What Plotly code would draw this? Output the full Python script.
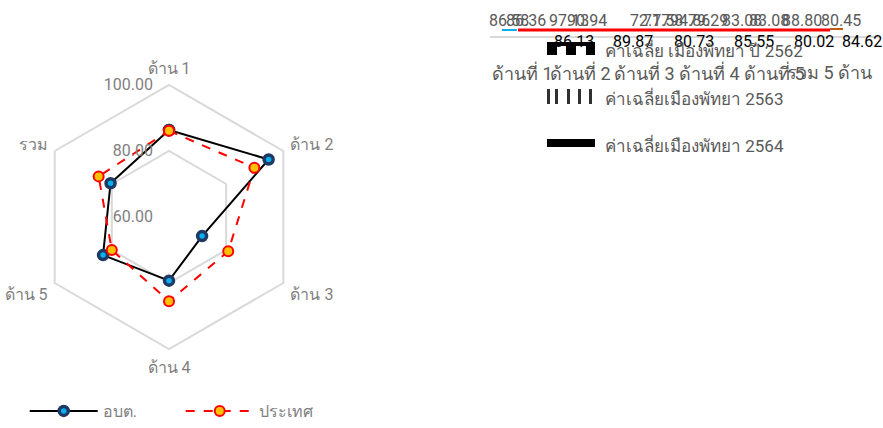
import plotly.graph_objects as go

W, H = 883, 428

# radar data
categories = ['ด้าน 1', 'ด้าน 2', 'ด้าน 3', 'ด้าน 4', 'ด้าน 5', 'รวม']
obt = [86.36, 94.86, 71.58, 79.29, 83.08, 80.45]
country = [86.13, 89.87, 80.73, 85.55, 80.02, 84.62]
radial_ticks = [60, 80, 100]

# the overlapping table/legend text on the right
top_row = ['86.58', '86.36', '97.13', '90.94', '72.77', '71.58',
           '94.86', '79.29', '83.08', '83.08', '88.80', '80.45']
top_row_x = [487, 504, 547, 565, 628, 641, 668, 686, 720, 747, 780, 819]
second_row_x = [574, 633, 694, 754, 814, 862]
side_labels = ['ด้านที่ 1', 'ด้านที่ 2', 'ด้านที่ 3', 'ด้านที่ 4', 'ด้านที่ 5', 'รวม 5 ด้าน']
side_labels_x = [490, 548, 612, 677, 742, 785]
year_labels = ['ค่าเฉลี่ย เมืองพัทยา ปี 2562', 'ค่าเฉลี่ยเมืองพัทยา 2563', 'ค่าเฉลี่ยเมืองพัทยา 2564']
year_labels_y = [50, 98, 145]

FONT = 'Roboto'
GRAY = '#7f7f7f'


def px(x, y):
    return x / W, 1 - y / H


fig = go.Figure()
fig.add_trace(go.Scatterpolar(
    r=obt + obt[:1], theta=categories + categories[:1], name='อบต.',
    mode='lines+markers',
    line=dict(color='black', width=2),
    marker=dict(size=9, color='#00B0F0', line=dict(color='#1F3864', width=3.5)),
))
fig.add_trace(go.Scatterpolar(
    r=country + country[:1], theta=categories + categories[:1], name='ประเทศ',
    mode='lines+markers',
    line=dict(color='#FF0000', width=2, dash='dash'),
    marker=dict(size=10, color='#FFC000', line=dict(color='#FF0000', width=2)),
))

cx, cy, rad = 169, 217, 132
fig.update_layout(
    width=W, height=H,
    margin=dict(l=0, r=0, t=0, b=0),
    paper_bgcolor='white',
    font=dict(family=FONT, size=15, color=GRAY),
    polar=dict(
        domain=dict(x=[(cx - rad) / W, (cx + rad) / W],
                    y=[(H - cy - rad) / H, (H - cy + rad) / H]),
        gridshape='linear',
        bgcolor='white',
        radialaxis=dict(range=[60, 100], tickvals=radial_ticks,
                        ticktext=['%.2f' % v for v in radial_ticks],
                        angle=90, tickangle=90, side='counterclockwise',
                        showline=False, ticks='outside', ticklen=10,
                        tickcolor='rgba(0,0,0,0)',
                        gridcolor='#d9d9d9', gridwidth=2,
                        tickfont=dict(size=16, color=GRAY)),
        angularaxis=dict(direction='clockwise', rotation=90,
                         showgrid=False, showline=True,
                         linecolor='#d9d9d9', linewidth=2,
                         ticks='outside', ticklen=4, tickcolor='rgba(0,0,0,0)',
                         tickfont=dict(size=16, color=GRAY)),
    ),
    showlegend=True,
    legend=dict(orientation='h', x=0.028, y=0.0, xanchor='left', yanchor='bottom',
                itemwidth=68, entrywidth=73, font=dict(size=16, color=GRAY),
                bgcolor='rgba(0,0,0,0)'),
)

shapes = []


def rect(x0, y0, x1, y1, color):
    a, b = px(x0, y0)
    c, d = px(x1, y1)
    shapes.append(dict(type='rect', xref='paper', yref='paper', x0=a, y0=d, x1=c, y1=b,
                       fillcolor=color, line=dict(width=0)))


def hline(x0, x1, y, color, width):
    a, b = px(x0, y)
    c, _ = px(x1, y)
    shapes.append(dict(type='line', xref='paper', yref='paper', x0=a, y0=b, x1=c, y1=b,
                       line=dict(color=color, width=width)))


hline(490, 880, 37, '#d9d9d9', 2)
hline(502, 517, 30, '#00B0F0', 2)
hline(518, 830, 30, '#FF0000', 3)
hline(830, 843, 29, '#C55A11', 2)

# checkerboard swatch
rect(547, 42, 595, 55, 'black')
rect(557, 46, 566, 55, 'white')
rect(576, 46, 586, 55, 'white')
# striped swatch
for x0 in [547, 555, 567, 578, 589]:
    rect(x0, 89, x0 + 3, 104, '#303030')
# solid swatch
rect(547, 139, 595, 147, 'black')

annotations = []
for t, x in zip(top_row, top_row_x):
    a, b = px(x, 20)
    annotations.append(dict(text=t, x=a, y=b, xref='paper', yref='paper',
                            xanchor='left', yanchor='middle', showarrow=False,
                            font=dict(size=16, color='#595959')))
for v, x in zip(country, second_row_x):
    a, b = px(x, 41)
    annotations.append(dict(text='%.2f' % v, x=a, y=b, xref='paper', yref='paper',
                            xanchor='center', yanchor='middle', showarrow=False,
                            font=dict(size=16, color='black')))
for t, x in zip(side_labels, side_labels_x):
    a, b = px(x, 72)
    annotations.append(dict(text=t, x=a, y=b, xref='paper', yref='paper',
                            xanchor='left', yanchor='middle', showarrow=False,
                            font=dict(size=18, color='#595959')))
for t, y in zip(year_labels, year_labels_y):
    a, b = px(603, y)
    annotations.append(dict(text=t, x=a, y=b, xref='paper', yref='paper',
                            xanchor='left', yanchor='middle', showarrow=False,
                            font=dict(size=17, color='#595959')))

fig.update_layout(shapes=shapes, annotations=annotations)

# drop the default body margin so the figure sits at the page corner
fig.write_html("out.html", config={'displayModeBar': False},
               post_script="document.body.style.margin='0';")
